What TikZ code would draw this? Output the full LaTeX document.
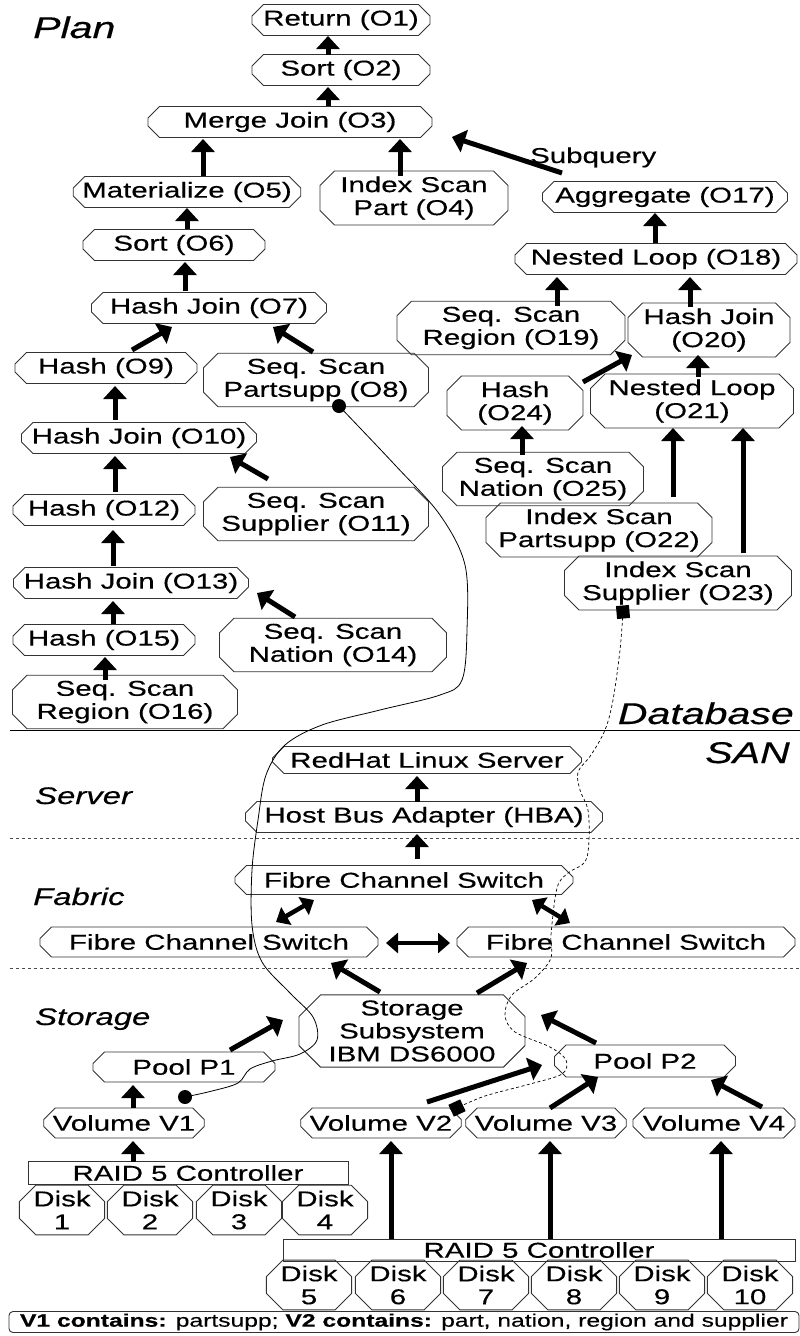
\documentclass[tikz,border=0pt]{standalone}
\usepackage{fontspec}
\setmainfont[FakeStretch=1.37,FakeBold=0.4]{Liberation Sans}
\usetikzlibrary{shapes.misc,arrows.meta,calc}

\begin{document}
\begin{tikzpicture}[x=1pt,y=-1pt,>={Triangle[length=13pt,width=23pt]}]
\tikzstyle{op}=[chamfered rectangle,chamfered rectangle xsep=8pt,draw=black!80,line width=0.9pt,inner xsep=1pt,inner ysep=2pt,minimum height=30pt,align=center,font=\fontsize{21.5}{23}\selectfont]
\tikzstyle{op2}=[op,minimum height=45pt,chamfered rectangle xsep=11pt]
\tikzstyle{disk}=[op,minimum width=85pt,minimum height=45pt,chamfered rectangle xsep=13pt]
\tikzstyle{raid}=[rectangle,draw=black!80,line width=0.9pt,inner sep=0pt,font=\fontsize{21.5}{23}\selectfont]
\tikzstyle{fat}=[->,line width=5pt]
\tikzstyle{both}=[{Triangle[length=12pt,width=20pt]}-{Triangle[length=12pt,width=20pt]},line width=4.5pt]
\tikzstyle{layer}=[inner sep=0pt,font=\fontsize{30}{30}\selectfont\itshape]
\tikzstyle{tier}=[inner sep=0pt,font=\fontsize{24}{24}\selectfont\itshape]
\tikzstyle{dot}=[circle,fill=black,inner sep=0pt,minimum size=14pt]
\tikzstyle{tag}=[rectangle,fill=black,inner sep=0pt,minimum size=13pt]
\useasboundingbox (0,0) rectangle (800,1336);

% plan, main branch
\node[layer,anchor=base west] (plan) at (33,38) {Plan};
\node[op,minimum width=178pt] (o1) at (341,20) {Return (O1)};
\node[op,minimum width=178pt] (o2) at (341,70) {Sort (O2)};
\node[op,minimum width=284pt] (o3) at (290,122) {Merge Join (O3)};
\node[op2,minimum width=188pt] (o4) at (414,198) {Index Scan\\Part (O4)};
\node[op,minimum width=225pt] (o5) at (187,192) {Materialize (O5)};
\node[op,minimum width=182pt] (o6) at (174,245) {Sort (O6)};
\node[op,minimum width=235pt] (o7) at (209,308) {Hash Join (O7)};
\node[op2,minimum width=225pt] (o8) at (316,380) {Seq. Scan\\Partsupp (O8)};
\node[op,minimum width=182pt] (o9) at (106,368) {Hash (O9)};
\node[op,minimum width=235pt] (o10) at (139,438) {Hash Join (O10)};
\node[op2,minimum width=225pt] (o11) at (316,514) {Seq. Scan\\Supplier (O11)};
\node[op,minimum width=182pt] (o12) at (104,510) {Hash (O12)};
\node[op,minimum width=235pt] (o13) at (131,583) {Hash Join (O13)};
\node[op2,minimum width=227pt] (o14) at (333,645) {Seq. Scan\\Nation (O14)};
\node[op,minimum width=182pt] (o15) at (104,640) {Hash (O15)};
\node[op2,minimum width=225pt] (o16) at (125,702) {Seq. Scan\\Region (O16)};

% plan, subquery
\node[anchor=base west,font=\fontsize{21.5}{23}\selectfont,inner sep=0pt] (subq) at (530,163) {Subquery};
\node[op,minimum width=245pt] (o17) at (665,197) {Aggregate (O17)};
\node[op,minimum width=282pt] (o18) at (656,259) {Nested Loop (O18)};
\node[op2,minimum width=228pt] (o19) at (511,328) {Seq. Scan\\Region (O19)};
\node[op2,minimum width=162pt] (o20) at (709,330) {Hash Join\\(O20)};
\node[op2,minimum width=203pt] (o21) at (692,401) {Nested Loop\\(O21)};
\node[op2,minimum width=226pt] (o22) at (599,530) {Index Scan\\Partsupp (O22)};
\node[op2,minimum width=227pt] (o23) at (678,583) {Index Scan\\Supplier (O23)};
\node[op2,minimum width=136pt] (o24) at (515,403) {Hash\\(O24)};
\node[op2,minimum width=201pt] (o25) at (543,479) {Seq. Scan\\Nation (O25)};

\draw[fat] ($(o2)+(-13,-15)$) -- ($(o1)+(-13,16)$);
\draw[fat] ($(o3)+(38,-16)$) -- ($(o2)+(-13,17)$);
\draw[fat] ($(o5)+(16,-16)$) -- ($(o3)+(-87,17)$);
\draw[fat] ($(o4)+(-14,-22)$) -- ($(o3)+(110,17)$);
\draw[fat] ($(o6)+(13,-16)$) -- ($(o5)+(0,16)$);
\draw[fat] ($(o7)+(-24,-17)$) -- ($(o6)+(11,17)$);
\draw[fat] ($(o9)+(26,-18)$) -- ($(o7)+(-37,19)$);
\draw[fat] ($(o8)+(-3,-28)$) -- ($(o7)+(64,19)$);
\draw[fat] ($(o10)+(-24,-18)$) -- ($(o9)+(9,18)$);
\draw[fat] ($(o11)+(-48,-35)$) -- ($(o10)+(91,19)$);
\draw[fat] ($(o12)+(11,-18)$) -- ($(o10)+(-24,18)$);
\draw[fat] ($(o13)+(-18,-17)$) -- ($(o12)+(9,20)$);
\draw[fat] ($(o14)+(-38,-28)$) -- ($(o13)+(126,10)$);
\draw[fat] ($(o15)+(9,-16)$) -- ($(o13)+(-18,18)$);
\draw[fat] ($(o16)+(-20,-22)$) -- ($(o15)+(1,17)$);
\draw[fat] ($(o17)+(-103,-24)$) -- ($(o3)+(162,15)$);
\draw[fat] ($(o18)+(-1,-16)$) -- ($(o17)+(-10,16)$);
\draw[fat] ($(o19)+(46,-22)$) -- ($(o18)+(-99,18)$);
\draw[fat] ($(o20)+(-19,-23)$) -- ($(o18)+(34,18)$);
\draw[fat] ($(o24)+(68,-21)$) -- ($(o20)+(-77,25)$);
\draw[fat] ($(o21)+(6,-24)$) -- ($(o20)+(-11,25)$);
\draw[fat] ($(o25)+(-21,-24)$) -- ($(o24)+(7,23)$);
\draw[fat] ($(o22)+(74,-33)$) -- ($(o21)+(-19,27)$);
\draw[fat] ($(o23)+(65,-30)$) -- ($(o21)+(51,27)$);

% layers
\draw[line width=0.9pt] (10,730) -- (800,730);
\draw[black!70,dashed,line width=0.8pt] (10,838) -- (800,838);
\draw[black!70,dashed,line width=0.8pt] (10,968) -- (800,968);
\node[layer,anchor=base east] (db) at (794,724) {Database};
\node[layer,anchor=base east] (san) at (790,763) {SAN};
\node[tier,anchor=base west] (server) at (35,804) {Server};
\node[tier,anchor=base west] (fabric) at (33,905) {Fabric};
\node[tier,anchor=base west] (storage) at (35,1025) {Storage};

% SAN
\node[op,minimum width=309pt,minimum height=27pt] (srv) at (427,760) {RedHat Linux Server};
\node[op,minimum width=357pt,minimum height=28pt] (hba) at (424,817) {Host Bus Adapter (HBA)};
\node[op,minimum width=338pt,minimum height=29pt] (fct) at (404,880) {Fibre Channel Switch};
\node[op,minimum width=338pt] (fcl) at (209,942) {Fibre Channel Switch};
\node[op,minimum width=338pt] (fcr) at (626,942) {Fibre Channel Switch};
\node[op,minimum width=226pt,minimum height=68pt,chamfered rectangle xsep=18pt] (sto) at (412,1031) {Storage\\Subsystem\\IBM DS6000};
\node[op,minimum width=182pt] (p1) at (184,1067) {Pool P1};
\node[op,minimum width=181pt,minimum height=32pt] (p2) at (645,1061) {Pool P2};
\node[op,minimum width=158pt] (v1) at (124,1123) {Volume V1};
\node[op,minimum width=156pt] (v2) at (381,1123) {Volume V2};
\node[op,minimum width=154pt] (v3) at (546,1123) {Volume V3};
\node[op,minimum width=162pt] (v4) at (714,1123) {Volume V4};
\node[raid,minimum width=320pt,minimum height=23pt] (r1) at (188,1173) {RAID 5 Controller};
\node[raid,minimum width=512pt,minimum height=22pt] (r2) at (539,1250) {RAID 5 Controller};
\foreach \i/\x in {1/62,2/150,3/239,4/325}
  \node[disk] (disk\i) at (\x,1210) {Disk\\\i};
\foreach \i/\x in {5/309,6/398,7/486,8/574,9/662,10/750}
  \node[disk] (disk\i) at (\x,1285) {Disk\\\i};
\node[rectangle,rounded corners=4pt,draw=black!80,line width=0.9pt,minimum width=790pt,minimum height=21pt,inner sep=0pt,font=\fontsize{18}{20}\selectfont] (note) at (404,1322) {\textbf{V1 contains:} partsupp; \textbf{V2 contains:} part, nation, region and supplier};

\draw[fat] ($(hba)+(-7,-15)$) -- ($(srv)+(-10,16)$);
\draw[fat] ($(fct)+(13,-21)$) -- ($(hba)+(-7,17)$);
\draw[both] ($(fct)+(-90,20)$) -- ($(fcl)+(67,-20)$);
\draw[both] ($(fct)+(128,20)$) -- ($(fcr)+(-56,-19)$);
\draw[both] ($(fcl)+(177,1)$) -- ($(fcr)+(-176,1)$);
\draw[fat] ($(sto)+(-32,-39)$) -- ($(fcl)+(122,21)$);
\draw[fat] ($(sto)+(65,-38)$) -- ($(fcr)+(-99,21)$);
\draw[fat] ($(p1)+(46,-17)$) -- ($(sto)+(-129,-11)$);
\draw[fat] ($(p2)+(-49,-18)$) -- ($(sto)+(129,-16)$);
\draw[fat] ($(v1)+(9,-15)$) -- ($(p1)+(-51,18)$);
\draw[fat] ($(v2)+(46,-21)$) -- ($(p2)+(-103,4)$);
\draw[fat] ($(v3)+(4,-15)$) -- ($(p2)+(-47,16)$);
\draw[fat] ($(v4)+(48,-16)$) -- ($(p2)+(66,19)$);
\draw[fat] ($(r1)+(-55,-11)$) -- ($(v1)+(9,18)$);
\draw[fat] ($(r2)+(-148,-11)$) -- ($(v2)+(10,18)$);
\draw[fat] ($(r2)+(11,-11)$) -- ($(v3)+(4,18)$);
\draw[fat] ($(r2)+(182,-11)$) -- ($(v4)+(7,18)$);

% table to volume mapping
\node[dot] (m8) at (339,406) {};
\node[dot] (mv1) at (185,1097) {};
\node[tag,rotate=5] (m23) at (623,612) {};
\node[tag,rotate=25] (mv2) at (457,1108) {};
\draw[line width=0.8pt] plot[smooth,tension=0.55] coordinates {(m8) (395,465) (440,515) (465,565) (467,630) (462,680) (440,695) (380,710) (322,725) (285,745) (266,775) (258,820) (252,870) (252,925) (262,962) (290,993) (313,1017) (317,1040) (300,1054) (272,1061) (250,1069) (238,1083) (212,1091) (mv1)};
\draw[dashed,line width=0.7pt,dash pattern=on 3pt off 2.5pt] plot[smooth,tension=0.55] coordinates {(m23) (620,650) (613,700) (605,730) (591,755) (578,772) (580,790) (588,810) (589,840) (585,862) (568,873) (557,888) (551,935) (551,958) (535,978) (512,995) (505,1015) (515,1032) (550,1047) (566,1060) (562,1074) (530,1084) (485,1096) (mv2)};
\end{tikzpicture}
\end{document}
